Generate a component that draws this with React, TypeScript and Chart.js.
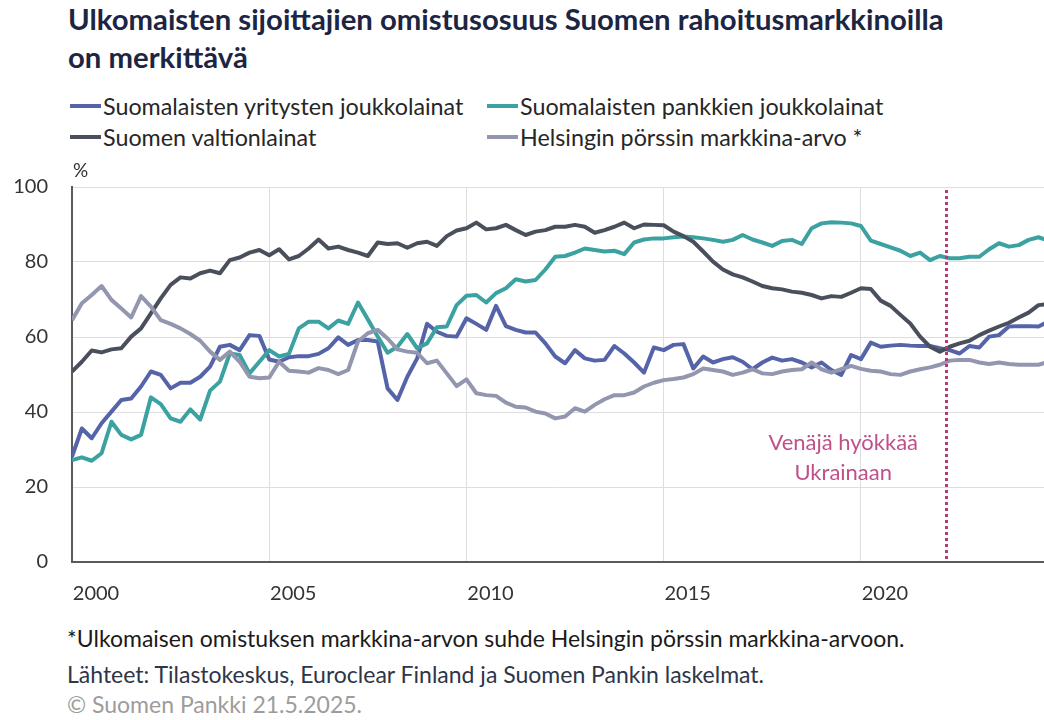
import React, { useEffect, useRef } from "react";
import { Chart, registerables } from "chart.js";

Chart.register(...registerables);

// Quarterly observations, 2000Q1 ... 2024Q4
const startYear = 2000;
const quarterLabels: string[] = [];
for (let y = 2000; y <= 2024; y++) for (let q = 1; q <= 4; q++) quarterLabels.push(`${y}Q${q}`);

const yritystenJoukkolainat = [
  28.1, 35.6, 33, 37, 40.1, 43.2, 43.6, 46.8, 50.8, 49.9, 46.3, 47.8, 47.8, 49.4, 52.1, 57.4, 57.9, 56.5, 60.5, 60.3,
  54, 53.4, 54.6, 54.9, 54.9, 55.5, 57, 59.9, 57.9, 59.2, 59.2, 58.8, 46.3, 43.2, 49.4, 54.3, 63.5, 61.4, 60.3, 60.1,
  65, 63.5, 61.9, 68.3, 62.9, 61.9, 61.2, 61.2, 58.3, 54.8, 53, 56.5, 54.3, 53.7, 53.9, 57.6, 55.6, 53.2, 50.5, 57.2,
  56.5, 57.9, 58.1, 51.6, 54.8, 53.2, 54.1, 54.6, 53.4, 51.4, 53.2, 54.5, 53.7, 54.1, 53.2, 51.9, 53.2, 51.2, 49.9, 55.2,
  54.1, 58.5, 57.4, 57.7, 57.9, 57.7, 57.6, 57.6, 57, 56.5, 55.6, 57.6, 57.2, 60.1, 60.5, 62.8, 62.9, 62.9, 62.8, 64.1,
];

const pankkienJoukkolainat = [
  27.2, 27.9, 27, 29, 37.4, 33.9, 32.7, 33.9, 43.9, 42.1, 38.3, 37.4, 40.7, 38, 45.7, 48.1, 55.6, 55.2, 50.3, 53.4,
  56.5, 54.8, 55.5, 62.3, 64.1, 64.1, 62.3, 64.4, 63.5, 69.2, 64.7, 60.1, 55.8, 57.4, 60.8, 57, 58.3, 62.6, 62.8, 68.5,
  71, 71.2, 69.2, 71.7, 73, 75.4, 74.8, 75.2, 78, 81.4, 81.6, 82.5, 83.6, 83.2, 82.8, 83, 82.1, 85.2, 86, 86.3,
  86.3, 86.6, 86.8, 86.6, 86.3, 85.9, 85.4, 85.9, 87.2, 86, 85.2, 84.3, 85.6, 85.9, 84.8, 89, 90.3, 90.6, 90.5, 90.3,
  89.6, 85.7, 84.8, 83.9, 83, 81.6, 82.5, 80.5, 81.6, 81, 81, 81.4, 81.4, 83.4, 85, 84.1, 84.5, 85.9, 86.6, 85.7,
];

const valtionlainat = [
  50.8, 53.4, 56.4, 55.9, 56.7, 57, 60.1, 62.3, 66.3, 70.3, 73.9, 75.9, 75.6, 77, 77.7, 77, 80.5, 81.2, 82.5, 83.2,
  81.8, 83.4, 80.7, 81.6, 83.6, 86, 83.6, 84.1, 83.2, 82.5, 81.6, 85.2, 84.8, 85, 83.8, 85, 85.4, 84.3, 86.9, 88.4,
  89, 90.5, 88.7, 89, 89.9, 88.5, 87.2, 88.1, 88.5, 89.4, 89.4, 89.9, 89.4, 87.8, 88.5, 89.4, 90.5, 89, 90, 89.9,
  89.8, 88.1, 86.9, 85.4, 82.8, 80.1, 78, 76.7, 75.9, 74.8, 73.6, 73, 72.7, 72.1, 71.8, 71.2, 70.3, 70.9, 70.7, 71.8,
  73, 72.8, 69.7, 68.3, 65.9, 63.6, 60.1, 57.4, 56.1, 57.4, 58.3, 59, 60.5, 61.7, 62.8, 63.8, 65.2, 66.5, 68.5, 68.8,
];

const porssinMarkkinaArvo = [
  64.5, 69, 71.2, 73.6, 69.9, 67.6, 65.2, 70.9, 68.1, 64.5, 63.5, 62.3, 60.8, 59, 56.1, 53.9, 56.1, 53.4, 49.4, 49,
  49.2, 53.4, 51, 50.8, 50.5, 51.7, 51.2, 50.1, 51.2, 58.8, 61, 61.9, 59.6, 56.7, 56.1, 55.8, 53, 53.7, 50.3, 46.9,
  48.7, 45, 44.5, 44.3, 42.5, 41.4, 41.2, 40.1, 39.6, 38.3, 38.8, 41, 40.1, 41.9, 43.4, 44.5, 44.5, 45.2, 46.8, 47.8,
  48.5, 48.8, 49.2, 50.1, 51.6, 51.2, 50.8, 49.9, 50.5, 51.4, 50.3, 50.1, 50.8, 51.2, 51.4, 53.2, 51.4, 50.5, 51.4, 52.3,
  51.5, 51, 50.8, 50.1, 49.9, 50.8, 51.4, 51.9, 52.6, 53.7, 53.9, 53.9, 53.2, 52.8, 53.2, 52.8, 52.6, 52.6, 52.6, 53.4,
];

const xTickYears = [2000, 2005, 2010, 2015, 2020];
const yTicks = [0, 20, 40, 60, 80, 100];
const invasionDate = 2022.15;
const annotationLines = ["Venäjä hyökkää", "Ukrainaan"];

const seriesNames = [
  "Suomalaisten yritysten joukkolainat",
  "Suomalaisten pankkien joukkolainat",
  "Suomen valtionlainat",
  "Helsingin pörssin markkina-arvo *",
];
const seriesColors = ["#5563a9", "#3ba2a1", "#4a505b", "#9296ae"];
const seriesValues = [yritystenJoukkolainat, pankkienJoukkolainat, valtionlainat, porssinMarkkinaArvo];

const FONT = "Lato, 'Open Sans', sans-serif";

function toXValue(label: string): number {
  const y = parseInt(label.slice(0, 4), 10);
  const q = parseInt(label.slice(5), 10);
  return y + (q - 1) / 4;
}

const overlayPlugin = {
  id: "overlay",
  afterDatasetsDraw(chart: any) {
    const { ctx, chartArea, scales } = chart;
    const x = scales.x;
    const y = scales.y;
    ctx.save();
    // dotted vertical line
    const px = Math.round(x.getPixelForValue(invasionDate)) + 0.5;
    ctx.strokeStyle = "#b5397a";
    ctx.lineWidth = 3;
    ctx.setLineDash([3, 3]);
    ctx.beginPath();
    ctx.moveTo(px, chartArea.top + 3);
    ctx.lineTo(px, chartArea.bottom);
    ctx.stroke();
    ctx.setLineDash([]);
    // annotation
    ctx.fillStyle = "#c0508a";
    ctx.font = `22px ${FONT}`;
    ctx.textAlign = "center";
    ctx.textBaseline = "middle";
    const ax = x.getPixelForValue(2019.55);
    ctx.fillText(annotationLines[0], ax, y.getPixelForValue(31.7));
    ctx.fillText(annotationLines[1], ax, y.getPixelForValue(23.7));
    // % unit
    ctx.fillStyle = "#333333";
    ctx.font = `19px ${FONT}`;
    ctx.textAlign = "left";
    ctx.fillText("%", chartArea.left + 1, chartArea.top - 16);
    ctx.restore();
  },
};

export default function App() {
  const canvasRef = useRef<HTMLCanvasElement | null>(null);

  useEffect(() => {
    if (!canvasRef.current) return;
    const xs = quarterLabels.map(toXValue);
    const chart = new Chart(canvasRef.current, {
      type: "line",
      data: {
        datasets: seriesValues.map((vals, k) => ({
          label: seriesNames[k],
          data: vals.map((v, i) => ({ x: xs[i], y: v })),
          borderColor: seriesColors[k],
          backgroundColor: seriesColors[k],
          borderWidth: 4,
          pointRadius: 0,
          tension: 0,
          borderJoinStyle: "round" as const,
        })).reverse(),
      },
      options: {
        animation: false,
        responsive: false,
        maintainAspectRatio: false,
        events: [],
        layout: { padding: { top: 37, right: 0, bottom: 0, left: 0 } },
        plugins: { legend: { display: false }, tooltip: { enabled: false }, title: { display: false } },
        scales: {
          x: {
            type: "linear",
            min: startYear,
            max: 2024.64,
            afterBuildTicks: (scale: any) => {
              scale.ticks = xTickYears.map((v) => ({ value: v }));
            },
            afterFit: (scale: any) => {
              scale.height = 50;
            },
            grid: { color: "#dedede", lineWidth: 1, drawTicks: false },
            border: { display: true, color: "#5a5a5a", width: 2 },
            ticks: {
              padding: 20,
              labelOffset: 24,
              color: "#333333",
              font: { family: FONT, size: 20 },
              maxRotation: 0,
              autoSkip: false,
              callback: (v: any) => String(v),
            },
          },
          y: {
            type: "linear",
            min: 0,
            max: 100,
            afterBuildTicks: (scale: any) => {
              scale.ticks = yTicks.map((v) => ({ value: v }));
            },
            afterFit: (scale: any) => {
              scale.width = 72;
            },
            grid: { color: "#dedede", lineWidth: 1, drawTicks: false },
            border: { display: true, color: "#5a5a5a", width: 2 },
            ticks: {
              padding: 24,
              color: "#333333",
              font: { family: FONT, size: 20 },
            },
          },
        },
      },
      plugins: [overlayPlugin],
    } as any);
    return () => chart.destroy();
  }, []);

  const legendItem = (k: number, left: number, top: number) => (
    <div
      key={k}
      style={{
        position: "absolute",
        left,
        top,
        height: 26,
        lineHeight: "26px",
        display: "flex",
        alignItems: "center",
        whiteSpace: "nowrap",
        fontSize: 23.3,
        color: "#262626",
      }}
    >
      <span style={{ display: "inline-block", width: 31, height: 4, background: seriesColors[k], marginRight: 2 }} />
      <span>{seriesNames[k]}</span>
    </div>
  );

  return (
    <div
      style={{
        position: "fixed",
        left: 0,
        top: 0,
        width: 1044,
        height: 720,
        background: "#ffffff",
        fontFamily: FONT,
        overflow: "hidden",
      }}
    >
      <div
        style={{
          position: "absolute",
          left: 68,
          top: 0,
          fontSize: 29.3,
          lineHeight: "38px",
          fontWeight: 700,
          color: "#1c2541",
          whiteSpace: "nowrap",
        }}
      >
        <div>Ulkomaisten sijoittajien omistusosuus Suomen rahoitusmarkkinoilla</div>
        <div>on merkittävä</div>
      </div>
      {legendItem(0, 70, 93)}
      {legendItem(1, 487, 93)}
      {legendItem(2, 70, 124)}
      {legendItem(3, 487, 124)}
      <canvas
        ref={canvasRef}
        width={1044}
        height={462}
        style={{ position: "absolute", left: 0, top: 150, width: 1044, height: 462 }}
      />
      <div style={{ position: "absolute", left: 67, top: 626, fontSize: 23, lineHeight: "24px", color: "#1a1a1a", whiteSpace: "nowrap" }}>
        *Ulkomaisen omistuksen markkina-arvon suhde Helsingin pörssin markkina-arvoon.
      </div>
      <div style={{ position: "absolute", left: 67, top: 662, fontSize: 23, lineHeight: "24px", color: "#2e3548", whiteSpace: "nowrap" }}>
        Lähteet: Tilastokeskus, Euroclear Finland ja Suomen Pankin laskelmat.
      </div>
      <div style={{ position: "absolute", left: 67, top: 692, fontSize: 23, lineHeight: "24px", color: "#9c9c9c", whiteSpace: "nowrap" }}>
        © Suomen Pankki 21.5.2025.
      </div>
    </div>
  );
}
